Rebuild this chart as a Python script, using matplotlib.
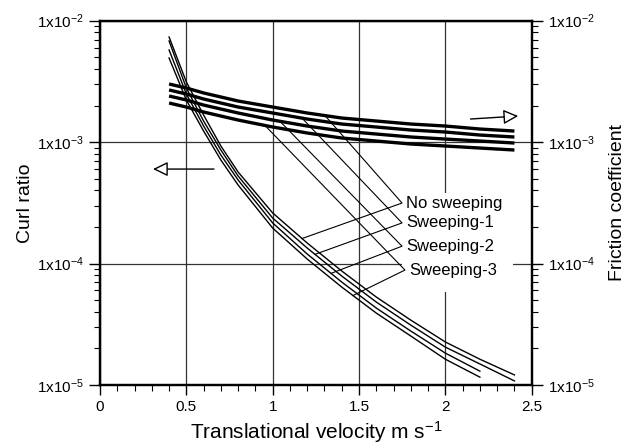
import numpy as np
import matplotlib
matplotlib.use("Agg")
import matplotlib.pyplot as plt
from matplotlib.ticker import LogLocator, FuncFormatter, MultipleLocator, NullFormatter
from matplotlib.patches import Rectangle

plt.rcParams['font.family'] = ['Liberation Sans', 'DejaVu Sans']
plt.rcParams['mathtext.fontset'] = 'custom'
plt.rcParams['mathtext.rm'] = 'Liberation Sans'
plt.rcParams['mathtext.default'] = 'regular'

# -------- datos --------
labels = ['No sweeping', 'Sweeping-1', 'Sweeping-2', 'Sweeping-3']

# curl ratio (lineas finas)
x_curl_long = [0.4, 0.5, 0.6, 0.7, 0.8, 1.0, 1.2, 1.4, 1.6, 1.8, 2.0, 2.2, 2.4]
x_curl_short = [0.4, 0.5, 0.6, 0.7, 0.8, 1.0, 1.2, 1.4, 1.6, 1.8, 2.0, 2.2]
curl_0 = [7.34e-3, 3.13e-3, 1.67e-3, 9.29e-4, 5.67e-4, 2.61e-4, 1.476e-4, 8.68e-5, 5.30e-5, 3.42e-5, 2.26e-5, 1.63e-5, 1.21e-5]
curl_1 = [6.81e-3, 2.79e-3, 1.49e-3, 8.61e-4, 5.26e-4, 2.37e-4, 1.342e-4, 7.89e-5, 4.82e-5, 3.11e-5, 2.05e-5, 1.49e-5, 1.08e-5]
curl_2 = [5.74e-3, 2.49e-3, 1.357e-3, 7.83e-4, 4.87e-4, 2.16e-4, 1.198e-4, 7.04e-5, 4.30e-5, 2.78e-5, 1.83e-5, 1.30e-5]
curl_3 = [4.93e-3, 2.22e-3, 1.234e-3, 7.12e-4, 4.43e-4, 1.96e-4, 1.089e-4, 6.40e-5, 3.91e-5, 2.53e-5, 1.63e-5, 1.16e-5]

# coeficiente de friccion (lineas gruesas)
x_fric = [0.4, 0.5, 0.6, 0.8, 1.0, 1.2, 1.4, 1.6, 1.8, 2.0, 2.2, 2.4]
fric_0 = [3.01e-3, 2.79e-3, 2.54e-3, 2.18e-3, 1.945e-3, 1.737e-3, 1.579e-3, 1.492e-3, 1.409e-3, 1.357e-3, 1.282e-3, 1.234e-3]
fric_1 = [2.687e-3, 2.49e-3, 2.265e-3, 1.945e-3, 1.737e-3, 1.549e-3, 1.409e-3, 1.332e-3, 1.258e-3, 1.211e-3, 1.144e-3, 1.102e-3]
fric_2 = [2.398e-3, 2.222e-3, 2.02e-3, 1.737e-3, 1.52e-3, 1.357e-3, 1.234e-3, 1.166e-3, 1.102e-3, 1.06e-3, 1.021e-3, 9.83e-4]
fric_3 = [2.099e-3, 1.945e-3, 1.77e-3, 1.52e-3, 1.332e-3, 1.189e-3, 1.081e-3, 1.021e-3, 9.65e-4, 9.29e-4, 8.94e-4, 8.61e-4]

curl_x = [x_curl_long, x_curl_long, x_curl_short, x_curl_short]
curl_y = [curl_0, curl_1, curl_2, curl_3]
fric_y = [fric_0, fric_1, fric_2, fric_3]

# lineas guia de las etiquetas
label_x = [1.749, 1.749, 1.749, 1.766]
label_y = [3.15e-4, 2.16e-4, 1.39e-4, 8.84e-5]
lead_fric_x = [1.303, 1.17, 1.042, 0.955]
lead_curl_x = [1.17, 1.245, 1.338, 1.465]

# -------- figura --------
fig = plt.figure(figsize=(6.27, 4.46), dpi=100)
ax = fig.add_axes([0.1595, 0.1368, 0.6885, 0.8168])
ax2 = ax.twinx()

for a in (ax, ax2):
    a.set_yscale('log')
    a.set_ylim(1e-5, 1e-2)
    a.yaxis.set_major_locator(LogLocator(base=10, numticks=10))
    a.yaxis.set_minor_locator(LogLocator(base=10, subs=np.arange(2, 10), numticks=10))
    a.yaxis.set_minor_formatter(NullFormatter())
    a.yaxis.set_major_formatter(FuncFormatter(lambda v, p: r'$1x10^{%d}$' % round(np.log10(v))))
    a.tick_params(axis='y', which='major', length=8, width=1, labelsize=11, direction='out')
    a.tick_params(axis='y', which='minor', length=4, width=0.8, direction='out')

ax.set_xlim(0, 2.5)
ax.xaxis.set_major_locator(MultipleLocator(0.5))
ax.xaxis.set_minor_locator(MultipleLocator(0.1))
ax.xaxis.set_major_formatter(FuncFormatter(lambda v, p: '%g' % v))
ax.tick_params(axis='x', which='major', length=7, width=1, labelsize=11, direction='out')
ax.tick_params(axis='x', which='minor', length=4, width=0.8, direction='out')

for a in (ax, ax2):
    for s in a.spines.values():
        s.set_linewidth(1.6)

ax.set_axisbelow(True)
ax.grid(True, which='major', color='#333333', linewidth=0.9)

# zona blanca detras de las etiquetas
ax.add_patch(Rectangle((1.75, 5.82e-5), 0.64, 3.81e-4 - 5.82e-5,
                       facecolor='white', edgecolor='none', zorder=1))

for xs, ys in zip(curl_x, curl_y):
    ax.plot(xs, ys, color='black', linewidth=1.0, zorder=2)

for ys in fric_y:
    ax2.plot(x_fric, ys, color='black', linewidth=2.4, solid_capstyle='butt')

# lineas guia
for i, lab in enumerate(labels):
    yf = 10 ** np.interp(lead_fric_x[i], x_fric, np.log10(fric_y[i]))
    yc = 10 ** np.interp(lead_curl_x[i], curl_x[i], np.log10(curl_y[i]))
    ax.plot([lead_fric_x[i], label_x[i], lead_curl_x[i]], [yf, label_y[i], yc],
            color='black', linewidth=0.8, zorder=2)
    ax.text(label_x[i] + 0.025, label_y[i], lab, fontsize=12, ha='left', va='center', zorder=3)

# flechas
flecha = dict(arrowstyle='-|>,head_length=0.45,head_width=0.22', fc='white',
              ec='black', lw=1.0, shrinkA=0, shrinkB=0, mutation_scale=20)
ax.annotate('', xy=(0.307, 6.0e-4), xytext=(0.66, 6.0e-4), arrowprops=flecha)
ax.annotate('', xy=(2.422, 1.64e-3), xytext=(2.146, 1.55e-3), arrowprops=flecha)

ax.set_xlabel('Translational velocity m s$^{-1}$', fontsize=15, labelpad=4)
ax.set_ylabel('Curl ratio', fontsize=14, labelpad=2)
ax2.set_ylabel('Friction coefficient', fontsize=14, labelpad=10)

plt.savefig('out.png', dpi=100)
